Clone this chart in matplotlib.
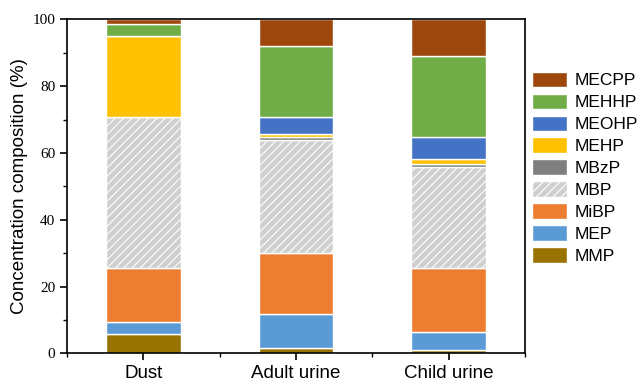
import matplotlib
matplotlib.use("Agg")
import matplotlib.pyplot as plt
import numpy as np
from matplotlib.patches import Patch
from matplotlib.ticker import MultipleLocator

categories = ["Dust", "Adult urine", "Child urine"]
compounds = ["MMP", "MEP", "MiBP", "MBP", "MBzP", "MEHP", "MEOHP", "MEHHP", "MECPP"]
MMP   = [5.7, 1.7, 1.1]
MEP   = [3.7, 10.0, 5.3]
MiBP  = [16.1, 18.4, 19.1]
MBP   = [45.3, 33.7, 30.3]
MBzP  = [0.0, 1.0, 1.0]
MEHP  = [24.1, 1.0, 1.3]
MEOHP = [0.0, 5.0, 6.7]
MEHHP = [3.8, 21.2, 24.2]
MECPP = [1.3, 8.0, 11.0]
series = [MMP, MEP, MiBP, MBP, MBzP, MEHP, MEOHP, MEHHP, MECPP]

colors = ["#997300", "#5B9BD5", "#ED7D31", "#CFCFCF", "#7F7F7F",
          "#FFC000", "#4472C4", "#70AD47", "#9E480E"]
hatches = [None, None, None, "////", None, None, None, None, None]

plt.rcParams["hatch.linewidth"] = 0.8
fig = plt.figure(figsize=(6.42, 3.81), dpi=100)
ax = fig.add_axes([0.1044, 0.0727, 0.7134, 0.8766])

x = np.arange(len(categories))
bottom = np.zeros(len(categories))
handles = []
for name, vals, c, h in zip(compounds, series, colors, hatches):
    vals = np.array(vals)
    ax.bar(x, vals, width=0.49, bottom=bottom, color=c, edgecolor="white",
           linewidth=1.0, hatch=h, zorder=2)
    bottom += vals
    handles.append(Patch(facecolor=c, edgecolor="white", hatch=h, linewidth=1.0, label=name))

ax.set_xlim(-0.5, 2.5)
ax.set_ylim(0, 100)
ax.set_xticks(x)
ax.set_xticklabels(categories, fontsize=13.5, family="Liberation Sans")
ax.xaxis.set_minor_locator(MultipleLocator(0.5))
ax.yaxis.set_major_locator(MultipleLocator(20))
ax.yaxis.set_minor_locator(MultipleLocator(10))
for lab in ax.get_yticklabels():
    lab.set_family("Liberation Serif")
    lab.set_fontsize(11)
ax.tick_params(axis="both", which="major", direction="out", length=5, width=1.2)
ax.tick_params(axis="both", which="minor", direction="out", length=3, width=1.0)
ax.tick_params(top=False, right=False)
for s in ax.spines.values():
    s.set_linewidth(1.2)
ax.set_ylabel("Concentration composition (%)", fontsize=13.5, family="Liberation Sans", labelpad=3)

leg = fig.legend(handles[::-1], compounds[::-1], loc="upper left",
                 bbox_to_anchor=(0.818, 0.83), frameon=False,
                 prop={"family": "Liberation Sans", "size": 12.5},
                 handlelength=2.0, handleheight=1.0, labelspacing=0.3,
                 handletextpad=0.45, borderaxespad=0)

fig.savefig("out.png", dpi=100)
